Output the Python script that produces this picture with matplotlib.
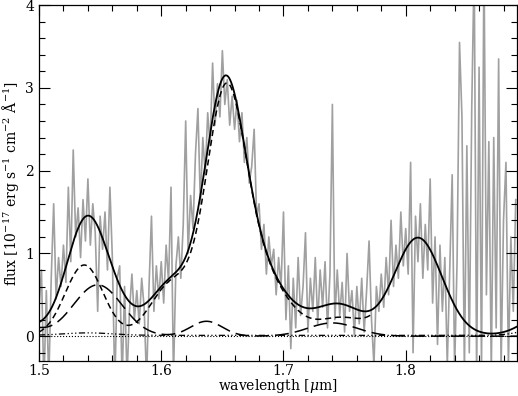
import numpy as np
import matplotlib
matplotlib.use("Agg")
import matplotlib.pyplot as plt
from matplotlib.ticker import MultipleLocator

# observed spectrum, sampled every 0.002 um from 1.500 to 1.890
wave_start = 1.500
wave_step = 0.002
flux = [
    0.35, 0.80, -0.60, 0.55, -0.55, 0.70, 1.60, 0.45, 0.95, 0.60,   # 1.50
    1.10, 0.65, 1.80, 0.90, 2.25, 1.20, 1.55, 0.95, 1.65, 1.15,     # 1.52
    1.90, 1.10, 1.60, 1.25, 0.30, 1.45, 1.05, 1.50, 0.80, 1.80,     # 1.54
    0.95, -0.60, 0.70, 0.85, -0.55, 0.60, -0.50, 0.30, 0.75, 0.20,  # 1.56
    0.55, 0.15, 0.70, 0.35, -0.55, 0.60, 1.45, 0.30, 0.85, 0.45,    # 1.58
    0.90, 0.40, 1.10, 0.65, 1.80, -0.50, 0.85, 1.20, 0.70, 1.35,    # 1.60
    2.60, 1.00, 1.70, 1.30, 2.20, 2.75, 1.60, 2.40, 1.95, 2.70,     # 1.62
    2.30, 3.30, 2.55, 3.05, 2.65, 3.45, 2.80, 3.10, 2.55, 2.90,     # 1.64
    2.50, 2.85, 2.35, 2.70, 2.10, 2.40, 1.85, 2.05, 2.50, 1.45,     # 1.66
    1.60, 1.05, 1.35, 0.75, 1.20, 0.85, 1.05, 0.50, 0.95, 0.60,     # 1.68
    1.50, 0.20, 0.85, -0.15, 0.70, 0.10, 0.95, 0.25, 0.60, 1.25,    # 1.70
    0.05, 0.70, 0.30, 0.95, 0.15, 0.80, 0.35, 0.90, 0.10, 0.75,     # 1.72
    2.80, 0.20, 0.80, 0.25, 0.65, 0.05, 1.00, 0.30, 0.55, 0.00,     # 1.74
    0.60, 0.15, 0.70, 0.05, 0.55, 1.15, 0.20, -0.35, 0.60, 0.30,    # 1.76
    0.75, 0.35, 0.95, 0.50, 1.40, 0.60, 1.10, 0.70, 1.50, 0.85,     # 1.78
    1.30, 0.75, 2.10, -0.20, 1.45, 0.90, 1.60, 0.70, 1.35, 0.80,    # 1.80
    1.90, 0.40, 1.20, -0.10, 1.10, 0.30, 0.95, -0.35, 0.80, 1.95,   # 1.82
    -0.40, 0.90, 3.55, 2.65, -0.45, 2.30, -0.20, 2.75, 4.50, -0.50, # 1.84
    3.25, -0.40, 4.60, 0.50, 2.35, -0.45, 2.40, 0.10, 3.35, -0.40,  # 1.86
    1.40, 2.10, -0.35, 1.20, 0.30, 1.65,                            # 1.88
]

# fitted gaussian components: centre [um], peak flux, sigma [um]
line_cen = [1.537, 1.608, 1.652, 1.672, 1.748]
line_amp = [0.86, 0.60, 2.34, 0.92, 0.21]
line_sig = [0.0155, 0.017, 0.0155, 0.026, 0.018]

ldash_cen = [1.490, 1.548, 1.637, 1.740]
ldash_amp = [0.10, 0.62, 0.18, 0.16]
ldash_sig = [0.012, 0.020, 0.013, 0.020]

extra_cen = [1.810, 1.920]
extra_amp = [1.18, 0.20]
extra_sig = [0.0195, 0.020]

cont_level = 0.01
cont_cen = [1.540, 1.910]
cont_amp = [0.03, 0.08]
cont_sig = [0.020, 0.015]

sdash_end = 1.773
dotted_level = 0.0


def gauss_sum(x, cen, amp, sig):
    y = np.zeros_like(x)
    for c, a, s in zip(cen, amp, sig):
        y += a * np.exp(-0.5 * ((x - c) / s) ** 2)
    return y


wave = wave_start + wave_step * np.arange(len(flux))
x = np.linspace(1.49, 1.90, 1200)

cont = cont_level + gauss_sum(x, cont_cen, cont_amp, cont_sig)
ldash = gauss_sum(x, ldash_cen, ldash_amp, ldash_sig)
lines = gauss_sum(x, line_cen, line_amp, line_sig) + gauss_sum(x, extra_cen, extra_amp, extra_sig)
total = lines + ldash + cont
sdash = np.where(x <= sdash_end, lines, np.nan)

plt.rcParams['font.family'] = ['DejaVu Serif']
plt.rcParams['mathtext.fontset'] = 'dejavuserif'

fig = plt.figure(figsize=(5.18, 3.96), dpi=100)
ax = fig.add_axes([0.0753, 0.0884, 0.9227, 0.8986])

ax.plot(wave, flux, color='#a0a0a0', lw=1.2, zorder=1)
ax.plot(x, total, color='black', lw=1.3, zorder=3)
ax.plot(x, sdash, color='black', lw=1.1, dashes=(4, 2.5), zorder=3)
ax.plot(x, ldash, color='black', lw=1.1, dashes=(9, 4), zorder=3)
ax.plot(x, cont, color='black', lw=0.9, dashes=(5, 2, 1, 2, 1, 2, 1, 2), zorder=3)
ax.axhline(dotted_level, color='black', lw=0.8, ls=':', zorder=2)

ax.set_xlim(1.5, 1.891)
ax.set_ylim(-0.3, 4.0)
ax.xaxis.set_major_locator(MultipleLocator(0.1))
ax.xaxis.set_minor_locator(MultipleLocator(0.02))
ax.yaxis.set_major_locator(MultipleLocator(1))
ax.yaxis.set_minor_locator(MultipleLocator(0.2))
ax.tick_params(which='both', direction='in', top=True, right=True, labelsize=10, width=0.8)
ax.tick_params(which='major', length=8)
ax.tick_params(which='minor', length=4)
ax.tick_params(axis='x', pad=2)
for sp in ax.spines.values():
    sp.set_linewidth(0.9)

ax.set_xlabel(r'wavelength [$\mu$m]', fontsize=10)
ax.set_ylabel(r'flux [10$^{-17}$ erg s$^{-1}$ cm$^{-2}$ $\mathrm{\AA}^{-1}$]', fontsize=10)
ax.xaxis.set_label_coords(0.5, -0.046)
ax.yaxis.set_label_coords(-0.037, 0.5)

fig.savefig('out.png', dpi=100)
